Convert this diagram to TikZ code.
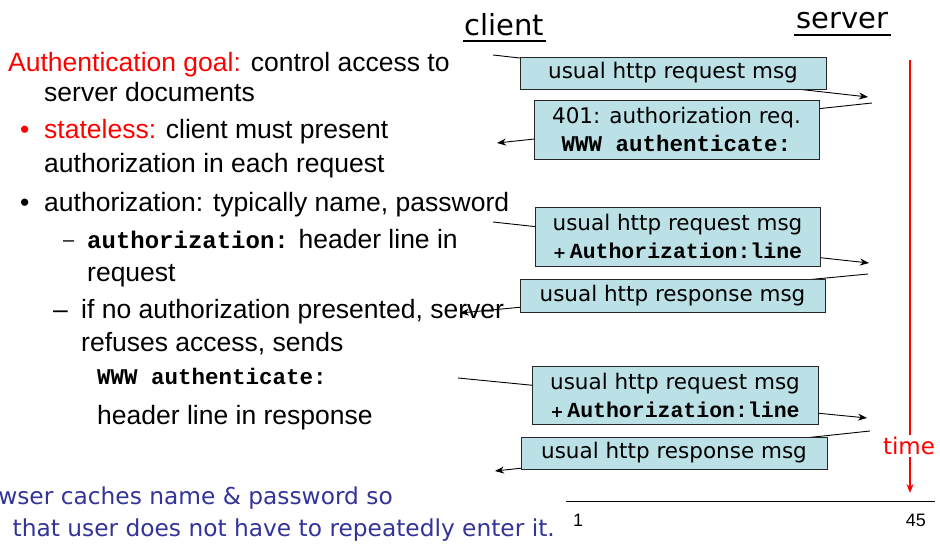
\documentclass[tikz,border=0pt]{standalone}
\usepackage{fontspec}
\setmainfont{Liberation Sans}
\newfontfamily\comic{DejaVu Sans}
\newfontfamily\cour{Liberation Mono}
\usetikzlibrary{arrows.meta}
\definecolor{boxfill}{RGB}{187,224,229}
\definecolor{noteblue}{RGB}{51,51,153}
\begin{document}
\begin{tikzpicture}[x=1pt,y=-1pt,
  txt/.style={anchor=base west, inner sep=0pt, font=\fontsize{26.5}{30}\selectfont},
  msgbox/.style={draw=black!85, fill=boxfill, line width=0.8pt, inner sep=0pt, align=center,
     font=\comic\fontsize{21.5}{28}\selectfont},
  msg/.style={line width=0.9pt, -{Stealth[length=9pt,width=7pt]}},
  head/.style={anchor=base, inner sep=0pt, font=\comic\fontsize{29}{32}\selectfont},
  note/.style={anchor=base east, inner sep=0pt, text=noteblue, font=\comic\fontsize{23.3}{28}\selectfont},
]
\useasboundingbox (0,0) rectangle (940,546);
\clip (0,0) rectangle (940,546);

% ---- left text ----
\node[txt] (l1) at (8,71) {\textcolor{red}{Authentication goal:} control access to};
\node[txt] (l2) at (44,101) {server documents};
\node[txt,text=red] (b1) at (20,138) {•};
\node[txt] (l3) at (44,138) {\textcolor{red}{stateless:} client must present};
\node[txt] (l4) at (44,172) {authorization in each request};
\node[txt] (b2) at (20,211) {•};
\node[txt] (l5) at (44,211) {authorization: typically name, password};
\node[txt,font=\fontsize{20}{24}\selectfont] (d1) at (63,246) {–};
\node[txt] (l6) at (87,248) {{\cour\bfseries\fontsize{24}{26}\selectfont authorization:} header line in};
\node[txt] (l7) at (87,281) {request};
\node[txt] (d2) at (53,318) {–};
\node[txt] (l8) at (81,318) {if no authorization presented, server};
\node[txt] (l9) at (81,351) {refuses access, sends};
\node[txt,font=\cour\bfseries\fontsize{22.5}{26}\selectfont] (l10) at (97,384) {WWW authenticate:};
\node[txt] (l11) at (97,424) {header line in response};

\node[note] (n1) at (393,504) {browser caches name \& password so};
\node[note] (n2) at (555,536) {that user does not have to repeatedly enter it.};

% ---- headings ----
\node[head] (client) at (504.5,35) {client};
\draw[line width=2.5pt] (463,41) -- (546,41);
\node[head] (server) at (842.5,28) {server};
\draw[line width=2.5pt] (794,35) -- (891,35);

% ---- time line ----
\coordinate (t0) at (910,60);
\coordinate (t1) at (910,493);
\draw[red, line width=1.2pt, -{Stealth[length=9pt,width=7pt]}] (t0) -- (t1);
\node[fill=white, inner sep=2pt, text=red, font=\comic\fontsize{23}{26}\selectfont] (time) at (909,446) {time};

% ---- page footer ----
\coordinate (f0) at (566,501);
\coordinate (f1) at (935,501);
\draw[line width=1pt] (f0) -- (f1);
\node[anchor=base west, inner sep=0pt, font=\fontsize{18}{20}\selectfont] (p1) at (573,526) {1};
\node[anchor=base east, inner sep=0pt, font=\fontsize{18}{20}\selectfont] (p45) at (926,526) {45};

% ---- messages ----
\coordinate (c1) at (493,55);  \coordinate (s1) at (868,97);
\coordinate (s2) at (872,103); \coordinate (c2) at (497,143);
\coordinate (c3) at (493,222); \coordinate (s3) at (869,263);
\coordinate (s4) at (868,274); \coordinate (c4) at (460,313);
\coordinate (c5) at (458,378); \coordinate (s5) at (867,418);
\coordinate (s6) at (870,431); \coordinate (c6) at (495,471);
\draw[msg] (c1) -- (s1);
\draw[msg] (s2) -- (c2);
\draw[msg] (c3) -- (s3);
\draw[msg] (s4) -- (c4);
\draw[msg] (c5) -- (s5);
\draw[msg] (s6) -- (c6);

\node[msgbox, minimum width=306pt, minimum height=32pt] (m1) at (673,73) {usual http request msg};
\node[msgbox, minimum width=285pt, minimum height=59pt] (m2) at (676.5,129.5)
  {401: authorization req.\\{\cour\bfseries\fontsize{22.5}{26}\selectfont WWW authenticate:}};
\node[msgbox, minimum width=285pt, minimum height=59pt] (m3) at (677.5,236.5)
  {usual http request msg\\{\bfseries\fontsize{16}{20}\selectfont +}\,{\cour\bfseries\fontsize{21.5}{26}\selectfont Authorization:line}};
\node[msgbox, minimum width=305pt, minimum height=33pt] (m4) at (672.5,295.5) {usual http response msg};
\node[msgbox, minimum width=286pt, minimum height=58pt] (m5) at (675,395)
  {usual http request msg\\{\bfseries\fontsize{16}{20}\selectfont +}\,{\cour\bfseries\fontsize{21.5}{26}\selectfont Authorization:line}};
\node[msgbox, minimum width=306pt, minimum height=32pt] (m6) at (674,453) {usual http response msg};
\end{tikzpicture}
\end{document}
